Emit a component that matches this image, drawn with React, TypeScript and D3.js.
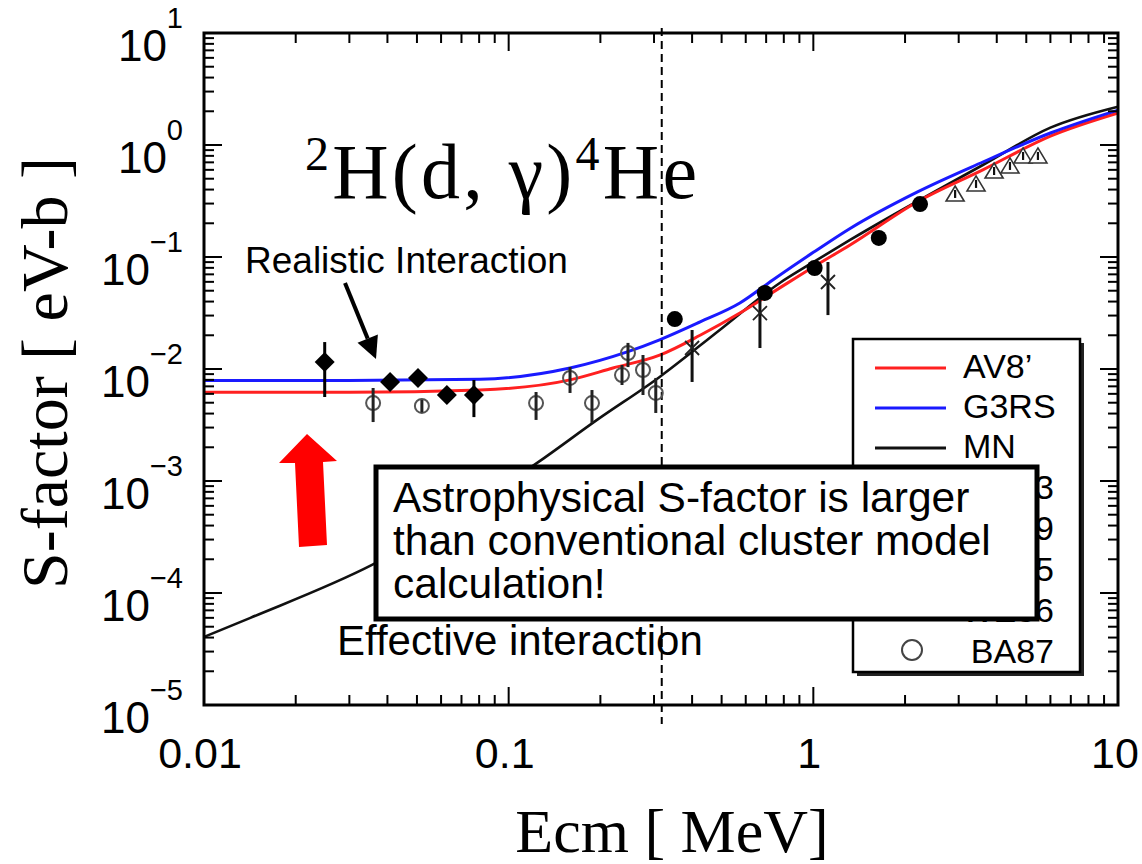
import React from 'react';
import * as d3 from 'd3';

// ---------- axis definitions ----------
const xMajorTicks = [0.01, 0.1, 1, 10];
const xTickLabels = ['0.01', '0.1', '1', '10'];
const yMajorTicks = [1e1, 1e0, 1e-1, 1e-2, 1e-3, 1e-4, 1e-5];
const yTickExponents = ['1', '0', '\u22121', '\u22122', '\u22123', '\u22124', '\u22125'];

// ---------- theory curves ----------
const av8E = [0.01, 0.03, 0.0805, 0.159, 0.22, 0.313, 0.425, 0.574, 0.776, 1.0, 1.32, 2.19, 3.6, 6.0, 10];
const av8S = [0.0062, 0.0062, 0.0065, 0.008, 0.0102, 0.0133, 0.02, 0.0316, 0.053, 0.0815, 0.128, 0.31, 0.6, 1.2, 1.93];

const g3rsE = [0.01, 0.03, 0.0805, 0.159, 0.245, 0.313, 0.425, 0.574, 0.736, 1.0, 1.32, 2.19, 3.6, 6.0, 10];
const g3rsS = [0.0079, 0.0079, 0.0081, 0.0102, 0.0142, 0.0182, 0.0263, 0.0388, 0.0624, 0.11, 0.18, 0.38, 0.705, 1.28, 2.05];

const mnE = [0.01, 0.0142, 0.0356, 0.124, 0.195, 0.313, 0.493, 0.776, 1.0, 1.32, 3.6, 6.0, 10];
const mnS = [4.05e-5, 6.0e-5, 1.78e-4, 1.45e-3, 3.51e-3, 8.49e-3, 0.0223, 0.0586, 0.09, 0.142, 0.663, 1.43, 2.2];

// ---------- experimental data ----------
const diamondE = [0.0249, 0.0408, 0.0504, 0.0627, 0.0769];
const diamondS = [0.01155, 0.00766, 0.00832, 0.00586, 0.00586];
const diamondLo = [0.00562, 0.00766, 0.00832, 0.00586, 0.00372];
const diamondHi = [0.0174, 0.00766, 0.00832, 0.00586, 0.00798];

const ba87E = [0.0359, 0.0519, 0.123, 0.159, 0.1877, 0.2355, 0.2464, 0.276, 0.304];
const ba87S = [0.00496, 0.00468, 0.00496, 0.00832, 0.00496, 0.00883, 0.0139, 0.0098, 0.00611];
const ba87Lo = [0.00336, 0.0041, 0.00351, 0.00611, 0.0033, 0.0072, 0.0104, 0.00586, 0.00405];
const ba87Hi = [0.00677, 0.0053, 0.00623, 0.01042, 0.00649, 0.01086, 0.0171, 0.01334, 0.00832];

const crossE = [0.40, 0.668, 1.117];
const crossS = [0.0154, 0.0316, 0.0598];
const crossLo = [0.00766, 0.0154, 0.0303];
const crossHi = [0.0223, 0.0458, 0.0902];

const dotE = [0.351, 0.693, 1.01, 1.64, 2.24];
const dotS = [0.0279, 0.0478, 0.0798, 0.148, 0.297];

const triE = [2.92, 3.42, 3.92, 4.42, 4.88, 5.46];
const triS = [0.358, 0.44, 0.574, 0.637, 0.782, 0.782];

const dashedE = 0.318;

const legendLineLabels = ['AV8\u2019', 'G3RS', 'MN'];
const legendLineColors = ['#ff2020', '#1a1aff', '#111'];
const legendMarkerLabels = ['PO73', 'ME69', 'WI85', 'WE86', 'BA87'];

const annotationLines = [
  'Astrophysical S-factor is larger',
  'than conventional cluster model',
  'calculation!',
];

const SANS = 'Liberation Sans, Arial, Helvetica, sans-serif';
const SERIF = 'Liberation Serif, Times New Roman, serif';

export default function App() {
  const x = d3.scaleLog().domain([0.01, 10]).range([204, 1118]);
  const y = d3.scaleLog().domain([1e-5, 10]).range([705, 33]);
  const [x0, x1] = x.range();
  const [y0, y1] = y.range(); // y0 bottom, y1 top

  const line = d3
    .line<[number, number]>()
    .x((d) => x(d[0]))
    .y((d) => y(d[1]))
    .curve(d3.curveMonotoneX);

  const zip = (a: number[], b: number[]) => a.map((v, i) => [v, b[i]] as [number, number]);

  // minor ticks
  const xMinor: number[] = [];
  for (let k = -2; k <= 0; k++) for (let m = 2; m <= 9; m++) xMinor.push(m * Math.pow(10, k));
  const yMinor: number[] = [];
  for (let k = -5; k <= 0; k++) for (let m = 2; m <= 9; m++) yMinor.push(m * Math.pow(10, k));

  const MAJ = 18;
  const MIN = 10;
  const tickStroke = 2;

  const diamondPath = 'M0,-10 L10,0 L0,10 L-10,0 Z';
  const triPath = 'M0,-9 L9,6 L-9,6 Z';

  // black annotation arrow
  const ax0 = 345, ay0 = 283, ax1 = 376, ay1 = 359;
  const alen = Math.hypot(ax1 - ax0, ay1 - ay0);
  const ux = (ax1 - ax0) / alen, uy = (ay1 - ay0) / alen;
  const hl = 22, hw = 11;
  const bx = ax1 - ux * hl, by = ay1 - uy * hl;
  const arrowHead = `M${ax1},${ay1} L${bx - uy * hw},${by + ux * hw} L${bx + uy * hw},${by - ux * hw} Z`;

  return (
    <svg
      width={1142}
      height={864}
      style={{ position: 'absolute', left: 0, top: 0, background: '#fff' }}
    >
      <rect x={0} y={0} width={1142} height={864} fill="#fff" />

      {/* curves */}
      <path d={line(zip(mnE, mnS)) || ''} fill="none" stroke="#111" strokeWidth={2.6} />
      <path d={line(zip(av8E, av8S)) || ''} fill="none" stroke="#ff2020" strokeWidth={3} />
      <path d={line(zip(g3rsE, g3rsS)) || ''} fill="none" stroke="#1a1aff" strokeWidth={3} />

      {/* dashed vertical line */}
      <line x1={x(dashedE)} x2={x(dashedE)} y1={28} y2={724} stroke="#000" strokeWidth={2} strokeDasharray="8 5" />

      {/* BA87 open circles */}
      {ba87E.map((e, i) => (
        <g key={'ba' + i}>
          <circle cx={x(e)} cy={y(ba87S[i])} r={7} fill="none" stroke="#555" strokeWidth={2} />
          <line x1={x(e)} x2={x(e)} y1={y(ba87Lo[i])} y2={y(ba87Hi[i])} stroke="#222" strokeWidth={3} />
        </g>
      ))}

      {/* diamonds */}
      {diamondE.map((e, i) => (
        <g key={'dm' + i}>
          <line x1={x(e)} x2={x(e)} y1={y(diamondLo[i])} y2={y(diamondHi[i])} stroke="#000" strokeWidth={3} />
          <path d={diamondPath} transform={`translate(${x(e)},${y(diamondS[i])})`} fill="#000" />
        </g>
      ))}

      {/* crosses */}
      {crossE.map((e, i) => (
        <g key={'cr' + i}>
          <line x1={x(e)} x2={x(e)} y1={y(crossLo[i])} y2={y(crossHi[i])} stroke="#111" strokeWidth={3} />
          <g transform={`translate(${x(e)},${y(crossS[i])})`} stroke="#222" strokeWidth={1.8}>
            <line x1={-7} y1={-7} x2={7} y2={7} />
            <line x1={-7} y1={7} x2={7} y2={-7} />
          </g>
        </g>
      ))}

      {/* filled circles */}
      {dotE.map((e, i) => (
        <circle key={'dt' + i} cx={x(e)} cy={y(dotS[i])} r={8} fill="#000" />
      ))}

      {/* triangles */}
      {triE.map((e, i) => (
        <g key={'tr' + i} transform={`translate(${x(e)},${y(triS[i])})`}>
          <path d={triPath} fill="#fff" stroke="#333" strokeWidth={1.6} />
          <line x1={0} x2={0} y1={-5} y2={3} stroke="#111" strokeWidth={2.2} />
        </g>
      ))}

      {/* frame ticks */}
      <g stroke="#000" strokeWidth={tickStroke}>
        {xMajorTicks.map((t, i) => (
          <g key={'xM' + i}>
            <line x1={x(t)} x2={x(t)} y1={y0} y2={y0 - MAJ} />
            <line x1={x(t)} x2={x(t)} y1={y1} y2={y1 + MAJ} />
          </g>
        ))}
        {xMinor.map((t, i) => (
          <g key={'xm' + i}>
            <line x1={x(t)} x2={x(t)} y1={y0} y2={y0 - MIN} />
            <line x1={x(t)} x2={x(t)} y1={y1} y2={y1 + MIN} />
          </g>
        ))}
        {yMajorTicks.map((t, i) => (
          <g key={'yM' + i}>
            <line x1={x0} x2={x0 + MAJ} y1={y(t)} y2={y(t)} />
            <line x1={x1} x2={x1 - MAJ} y1={y(t)} y2={y(t)} />
          </g>
        ))}
        {yMinor.map((t, i) => (
          <g key={'ym' + i}>
            <line x1={x0} x2={x0 + MIN} y1={y(t)} y2={y(t)} />
            <line x1={x1} x2={x1 - MIN} y1={y(t)} y2={y(t)} />
          </g>
        ))}
      </g>
      <rect x={x0} y={y1} width={x1 - x0} height={y0 - y1} fill="none" stroke="#000" strokeWidth={3} />

      {/* tick labels */}
      {xMajorTicks.map((t, i) => (
        <text key={'xl' + i} x={i === 3 ? x(t) - 3 : x(t) - 4} y={768} textAnchor="middle" fontFamily={SANS} fontSize={43} fill="#000">
          {xTickLabels[i]}
        </text>
      ))}
      {yMajorTicks.map((t, i) => (
        <text key={'yl' + i} x={183} y={y(t) + 28} textAnchor="end" fontFamily={SANS} fill="#000">
          <tspan fontSize={44}>10</tspan>
          <tspan fontSize={29} dy={-33}>{yTickExponents[i]}</tspan>
        </text>
      ))}

      {/* axis titles */}
      <text x={672} y={852} textAnchor="middle" fontFamily={SERIF} fontSize={62} fill="#000">
        Ecm [ MeV]
      </text>
      <text transform="translate(67,373) rotate(-90)" textAnchor="middle" fontFamily={SERIF} fontSize={66} fill="#000">
        S-factor [ eV-b ]
      </text>

      {/* reaction title */}
      <text x={305} y={198} fontFamily={SERIF} fontSize={78} fill="#000" textLength={392} lengthAdjust="spacing">
        <tspan fontSize={48} dy={-28}>2</tspan>
        <tspan dy={28}>H(d, {'\u03b3'})</tspan>
        <tspan fontSize={48} dy={-28}>4</tspan>
        <tspan dy={28}>He</tspan>
      </text>

      {/* legend */}
      <rect x={857} y={343} width={227} height={333} fill="#222" />
      <rect x={853} y={339} width={227} height={333} fill="#fff" stroke="#000" strokeWidth={2.5} />
      {legendLineLabels.map((lab, i) => (
        <g key={'ll' + i}>
          <line x1={875} x2={946} y1={368 + i * 40} y2={368 + i * 40} stroke={legendLineColors[i]} strokeWidth={3} />
          <text x={963} y={378 + i * 40} fontFamily={SANS} fontSize={34} fill="#000">{lab}</text>
        </g>
      ))}
      {legendMarkerLabels.map((lab, i) => {
        const cy = 487 + i * 41;
        return (
          <g key={'lm' + i}>
            {i === 0 && <path d={diamondPath} transform={`translate(912,${cy})`} fill="#000" />}
            {i === 1 && <circle cx={912} cy={cy} r={8} fill="#000" />}
            {i === 2 && (
              <g transform={`translate(912,${cy})`} stroke="#222" strokeWidth={1.8}>
                <line x1={-7} y1={-7} x2={7} y2={7} />
                <line x1={-7} y1={7} x2={7} y2={-7} />
              </g>
            )}
            {i === 3 && <path d={triPath} transform={`translate(912,${cy})`} fill="#fff" stroke="#333" strokeWidth={1.6} />}
            {i === 4 && <circle cx={912} cy={cy - 1} r={10} fill="none" stroke="#444" strokeWidth={2} />}
            <text x={1054} y={cy + 12} textAnchor="end" fontFamily={SANS} fontSize={34} fill="#000">{lab}</text>
          </g>
        );
      })}

      {/* Realistic interaction label & arrow */}
      <text x={245} y={273} fontFamily={SANS} fontSize={37} fill="#000">Realistic Interaction</text>
      <line x1={ax0} y1={ay0} x2={bx} y2={by} stroke="#000" strokeWidth={4} />
      <path d={arrowHead} fill="#000" />

      {/* red up arrow */}
      <path
        d="M307,434 L337,461 L323,462 L327,545 L299,547 L295,463 L279,463 Z"
        fill="#ff0000"
      />

      {/* annotation box */}
      <rect x={376} y={467} width={661} height={152} fill="#fff" stroke="#000" strokeWidth={5} />
      {annotationLines.map((t, i) => (
        <text key={'an' + i} x={393} y={512 + i * 43} fontFamily={SANS} fontSize={42.5} fill="#000">
          {t}
        </text>
      ))}

      <text x={337} y={655} fontFamily={SANS} fontSize={42} fill="#000">Effective interaction</text>
    </svg>
  );
}
